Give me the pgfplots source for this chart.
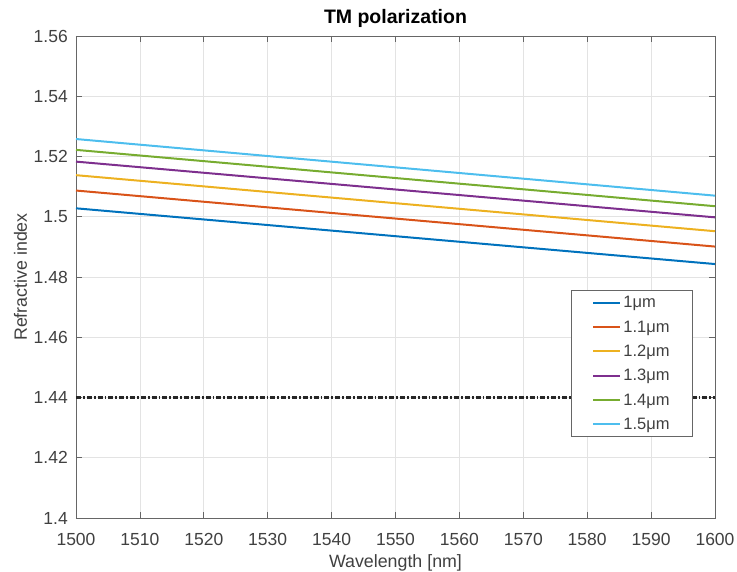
\documentclass[border=0pt]{standalone}
\usepackage{pgfplots}
\pgfplotsset{compat=1.18}
\usepackage{fontspec}
\setmainfont{Liberation Sans}

% MATLAB default line colours
\definecolor{mblue}{rgb}{0,0.447,0.741}
\definecolor{morange}{rgb}{0.85,0.325,0.098}
\definecolor{myellow}{rgb}{0.929,0.694,0.125}
\definecolor{mpurple}{rgb}{0.494,0.184,0.556}
\definecolor{mgreen}{rgb}{0.466,0.674,0.188}
\definecolor{mcyan}{rgb}{0.301,0.745,0.933}
\definecolor{axgray}{gray}{0.25}
\definecolor{linegray}{gray}{0.4}

\begin{document}
\begin{tikzpicture}[x=1pt,y=1pt]
\begin{axis}[
  scale only axis,
  width=639pt, height=482pt,
  xmin=1500, xmax=1600, ymin=1.4, ymax=1.56,
  xtick={1500,1510,...,1600},
  ytick={1.40,1.42,...,1.561},
  yticklabel style={/pgf/number format/fixed,/pgf/number format/precision=2,
    anchor=east, inner sep=0pt, xshift=-8pt},
  xticklabel style={/pgf/number format/set thousands separator={},
    anchor=base, inner sep=0pt, yshift=-27pt},
  /pgf/number format/assume math mode=true,
  tick label style={font=\fontsize{17.5}{19}\selectfont, text=axgray},
  label style={font=\fontsize{17.8}{19}\selectfont, text=axgray},
  title={TM polarization},
  title style={font=\bfseries\fontsize{19.5}{21}\selectfont,
    at={(axis description cs:0.5,1.0145)}, anchor=base, inner sep=0pt},
  xlabel={Wavelength [nm]},
  xlabel style={at={(axis description cs:0.5,-0.1037)}, anchor=base, inner sep=0pt},
  ylabel={Refractive index},
  ylabel style={at={(axis description cs:-0.0767,0.5)}, anchor=base, inner sep=0pt},
  axis line style={linegray, line width=0.9pt},
  tick style={linegray, line width=0.6pt},
  major tick length=6pt,
  grid=major,
  grid style={gray!22, line width=0.6pt},
  legend cell align=left,
  legend style={at={(0.9656,0.473)}, anchor=north east,
    font=\fontsize{16.5}{18}\selectfont, draw=linegray, line width=0.8pt,
    inner xsep=21pt, inner ysep=4pt, row sep=7.4pt, text=axgray},
  legend image code/.code={\draw[#1, line width=2pt] (0pt,0pt) -- (27pt,0pt);},
]
\addplot[mblue, line width=2pt]    coordinates {(1500,1.5028) (1600,1.4843)};
\addlegendentry{1μm}
\addplot[morange, line width=2pt]  coordinates {(1500,1.5087) (1600,1.4901)};
\addlegendentry{1.1μm}
\addplot[myellow, line width=2pt]  coordinates {(1500,1.5138) (1600,1.4952)};
\addlegendentry{1.2μm}
\addplot[mpurple, line width=2pt]  coordinates {(1500,1.5183) (1600,1.4998)};
\addlegendentry{1.3μm}
\addplot[mgreen, line width=2pt]   coordinates {(1500,1.5222) (1600,1.5035)};
\addlegendentry{1.4μm}
\addplot[mcyan, line width=2pt]    coordinates {(1500,1.5258) (1600,1.5070)};
\addlegendentry{1.5μm}
% substrate index reference
\addplot[black!85, line width=2.2pt, dash pattern=on 5pt off 2pt on 1.8pt off 2pt, forget plot]
  coordinates {(1500,1.44) (1600,1.44)};
\end{axis}
% page frame: fixed margins around the axis box
\pgfresetboundingbox
\path ([shift={(-76pt,-53pt)}]current axis.south west)
  rectangle ([shift={(22pt,36pt)}]current axis.north east);
\end{tikzpicture}
\end{document}
